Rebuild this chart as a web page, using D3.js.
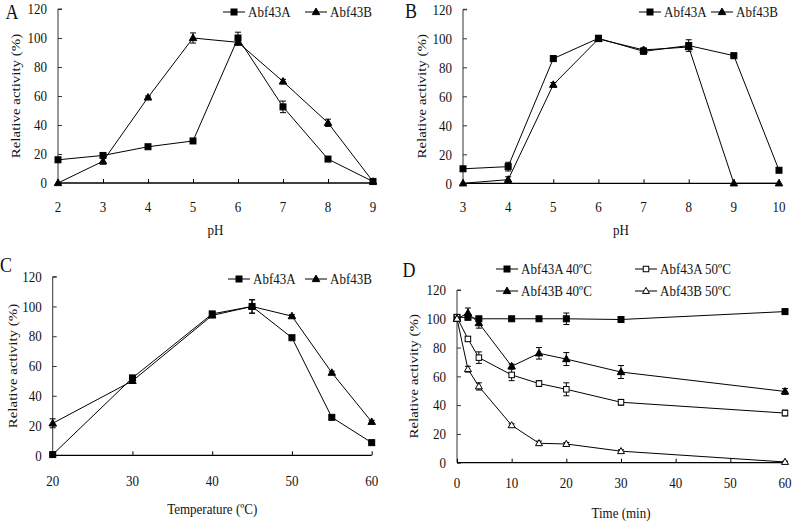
<!DOCTYPE html>
<html>
<head>
<meta charset="utf-8">
<script src="https://cdn.jsdelivr.net/npm/d3@7/dist/d3.min.js"></script>
<style>
  html, body { margin: 0; padding: 0; background: #fff; }
  svg { display: block; }
  text { font-family: "Liberation Serif", "Times New Roman", serif; fill: #111; }
</style>
</head>
<body>
<svg id="chart" width="792" height="522"></svg>
<script>
// ---------- DATA ----------
const yTicks = [0, 20, 40, 60, 80, 100, 120];

// Panel A: pH optimum
const pHA = [2, 3, 4, 5, 6, 7, 8, 9];
const actA_A = [16, 19, 25, 29, 100, 52.5, 16.5, 1];
const errA_A = [1, 1.5, 1, 1.5, 4, 4, 1.5, 1];
const actA_B = [0, 15, 59, 100, 97, 70, 41.5, 1];
const errA_B = [0, 2, 1, 3.5, 2, 1.5, 2.5, 1];

// Panel B: pH stability
const pHB = [3, 4, 5, 6, 7, 8, 9, 10];
const actB_A = [10, 11.5, 86, 100, 91, 95, 88, 9];
const errB_A = [1, 3, 2, 2, 1, 4, 1, 1];
const actB_B = [0, 2.5, 68, 99.5, 92, 94, 0, 0];
const errB_B = [0, 2, 1.5, 1, 1.5, 1, 0, 0];

// Panel C: temperature optimum
const tempC = [20, 30, 40, 45, 50, 55, 60];
const actC_A = [0.5, 52, 95, 100, 79, 25.5, 8.5];
const errC_A = [0.5, 1.5, 1.5, 4.5, 1, 1, 1];
const actC_B = [21.5, 50, 94, 100, 93.5, 55.5, 22.5];
const errC_B = [3, 1.5, 1.5, 4.5, 1, 1, 1];

// Panel D: thermostability
const timeD = [0, 2, 4, 10, 15, 20, 30, 60];
const actD_A40 = [101, 101, 100, 100, 100, 100, 99.5, 105];
const errD_A40 = [1, 1.5, 1, 0.5, 0.5, 4, 1, 1.5];
const actD_A50 = [101, 86, 73, 61, 55, 51, 42, 34.5];
const errD_A50 = [1, 1.5, 4, 4, 2, 4.5, 2, 2];
const actD_B40 = [100, 104, 97, 67, 76, 72, 63, 49.5];
const errD_B40 = [1, 3.5, 3.5, 1.5, 4, 4.5, 4.5, 2];
const actD_B50 = [100, 65, 53, 26, 13.5, 13, 8, 0.5];
const errD_B50 = [1, 2, 2.5, 1, 1.5, 1, 1, 0.5];

const xTicksA = [2, 3, 4, 5, 6, 7, 8, 9];
const xTicksB = [3, 4, 5, 6, 7, 8, 9, 10];
const xTicksC = [20, 30, 40, 50, 60];
const xTicksD = [0, 10, 20, 30, 40, 50, 60];

// ---------- DRAWING ----------
const svg = d3.select("#chart");
const FS = 13;
const STRETCH = 1.15;

function txt(g, x, y, s, anchor, rot, size) {
  const t = g.append("text")
    .attr("transform", `translate(${x},${y}) scale(1,${STRETCH})` + (rot ? " rotate(-90)" : ""))
    .attr("text-anchor", anchor || "middle")
    .attr("dy", "0.35em")
    .style("font-size", (size || FS) + "px")
    .text(s);
  return t;
}

function marker(g, type, cx, cy) {
  const filled = !type.startsWith("open");
  if (type.endsWith("square")) {
    const s = filled ? 6 : 5.5;
    g.append("rect").attr("x", cx - s / 2).attr("y", cy - s / 2)
      .attr("width", s).attr("height", s)
      .attr("fill", filled ? "#000" : "#fff").attr("stroke", "#000").attr("stroke-width", 1);
  } else {
    const s = filled ? 7.5 : 7;
    const h = s * 0.87;
    g.append("path")
      .attr("d", `M${cx},${cy - h * 0.6} L${cx + s / 2},${cy + h * 0.4} L${cx - s / 2},${cy + h * 0.4} Z`)
      .attr("fill", filled ? "#000" : "#fff").attr("stroke", "#000").attr("stroke-width", 1);
  }
}

function panel(cfg) {
  const g = svg.append("g");
  const x = d3.scaleLinear().domain(cfg.xDomain).range([cfg.x0, cfg.x1]);
  const y = d3.scaleLinear().domain([0, 120]).range([cfg.yB, cfg.yT]);

  // y axis (ticks inward)
  const yAx = g.append("g").attr("transform", `translate(${cfg.x0},0)`)
    .call(d3.axisRight(y).tickValues(yTicks).tickSize(4).tickFormat(""));
  yAx.select(".domain").attr("stroke", "#333").attr("d", `M4,${cfg.yT}H0V${cfg.yB}`);
  yAx.selectAll(".tick line").attr("stroke", "#333");
  yTicks.forEach(v => txt(g, cfg.x0 - 11, y(v), String(v), "end"));

  // x axis (ticks inward, upward)
  const xAx = g.append("g").attr("transform", `translate(0,${cfg.yB})`)
    .call(d3.axisTop(x).tickValues(cfg.xTicks).tickSize(4).tickSizeOuter(0).tickFormat(""));
  xAx.select(".domain").attr("stroke", "#000").attr("stroke-width", 1.3)
    .attr("d", `M${cfg.x0},0H${cfg.x1}`);
  xAx.selectAll(".tick line").attr("stroke", "#000");
  cfg.xTicks.forEach(v => txt(g, x(v), cfg.xLabY, String(v), "middle"));

  // titles
  txt(g, (cfg.x0 + cfg.x1) / 2, cfg.xTitleY, cfg.xTitle, "middle");
  txt(g, cfg.yTitleX, (cfg.yT + cfg.yB) / 2, "Relative activity (%)", "middle", true);
  txt(g, cfg.letterX, cfg.letterY, cfg.letter, "middle", false, 18);

  // series
  cfg.series.forEach(s => {
    const pts = cfg.xs.map((xv, i) => [x(xv), y(s.v[i])]);
    g.append("path").attr("d", d3.line()(pts)).attr("fill", "none")
      .attr("stroke", "#000").attr("stroke-width", 1);
  });
  cfg.series.forEach(s => {
    cfg.xs.forEach((xv, i) => {
      const e = s.e[i];
      if (e > 0.3) {
        const cx = x(xv), y1 = y(s.v[i] + e), y2 = y(s.v[i] - e);
        g.append("path").attr("d", `M${cx},${y1}V${y2}M${cx - 3},${y1}H${cx + 3}M${cx - 3},${y2}H${cx + 3}`)
          .attr("stroke", "#000").attr("stroke-width", 1).attr("fill", "none");
      }
    });
    cfg.xs.forEach((xv, i) => marker(g, s.m, x(xv), y(s.v[i])));
  });

  // legend
  cfg.legend.forEach(l => {
    g.append("line").attr("x1", l.x).attr("x2", l.x + 22).attr("y1", l.y).attr("y2", l.y)
      .attr("stroke", "#000").attr("stroke-width", 1);
    marker(g, l.m, l.x + 11, l.y);
    txt(g, l.x + 25, l.y, l.label, "start");
  });
}

panel({
  letter: "A", letterX: 12, letterY: 12,
  x0: 58, x1: 373, yT: 9, yB: 183, xDomain: [2, 9], xTicks: xTicksA, xs: pHA,
  xLabY: 207, xTitle: "pH", xTitleY: 230, yTitleX: 15,
  series: [
    { v: actA_A, e: errA_A, m: "square" },
    { v: actA_B, e: errA_B, m: "triangle" }
  ],
  legend: [
    { x: 223, y: 12, m: "square", label: "Abf43A" },
    { x: 305, y: 12, m: "triangle", label: "Abf43B" }
  ]
});

panel({
  letter: "B", letterX: 411, letterY: 11,
  x0: 463, x1: 779, yT: 9.3, yB: 183.3, xDomain: [3, 10], xTicks: xTicksB, xs: pHB,
  xLabY: 207, xTitle: "pH", xTitleY: 230, yTitleX: 421,
  series: [
    { v: actB_A, e: errB_A, m: "square" },
    { v: actB_B, e: errB_B, m: "triangle" }
  ],
  legend: [
    { x: 639, y: 12, m: "square", label: "Abf43A" },
    { x: 711, y: 12, m: "triangle", label: "Abf43B" }
  ]
});

panel({
  letter: "C", letterX: 6, letterY: 265,
  x0: 52.7, x1: 371.7, yT: 276.7, yB: 455.3, xDomain: [20, 60], xTicks: xTicksC, xs: tempC,
  xLabY: 481, xTitle: "Temperature (\u00baC)", xTitleY: 509, yTitleX: 12,
  series: [
    { v: actC_A, e: errC_A, m: "square" },
    { v: actC_B, e: errC_B, m: "triangle" }
  ],
  legend: [
    { x: 228, y: 279, m: "square", label: "Abf43A" },
    { x: 305, y: 279, m: "triangle", label: "Abf43B" }
  ]
});

panel({
  letter: "D", letterX: 409, letterY: 270,
  x0: 457, x1: 785, yT: 290, yB: 462.7, xDomain: [0, 60], xTicks: xTicksD, xs: timeD,
  xLabY: 483, xTitle: "Time (min)", xTitleY: 513, yTitleX: 413,
  series: [
    { v: actD_A40, e: errD_A40, m: "square" },
    { v: actD_A50, e: errD_A50, m: "open-square" },
    { v: actD_B40, e: errD_B40, m: "triangle" },
    { v: actD_B50, e: errD_B50, m: "open-triangle" }
  ],
  legend: [
    { x: 496, y: 269, m: "square", label: "Abf43A 40\u00baC" },
    { x: 635, y: 269, m: "open-square", label: "Abf43A 50\u00baC" },
    { x: 496, y: 291, m: "triangle", label: "Abf43B 40\u00baC" },
    { x: 635, y: 291, m: "open-triangle", label: "Abf43B 50\u00baC" }
  ]
});
</script>
</body>
</html>
